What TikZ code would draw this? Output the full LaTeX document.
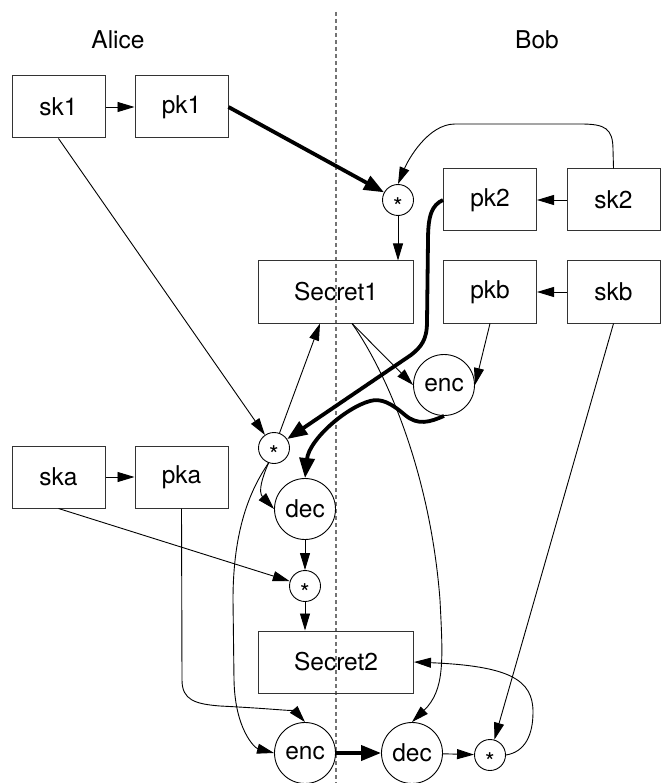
\documentclass[tikz,border=0pt]{standalone}
\usepackage{fontspec}
\setmainfont{TeX Gyre Heros}
\usetikzlibrary{arrows.meta,calc}
\newcommand{\opstar}{\raisebox{-15.5pt}[0pt][0pt]{*}}
\begin{document}
\begin{tikzpicture}[x=1pt,y=-1pt,
  font=\fontsize{24.5}{28}\selectfont,
  box/.style={draw=black!80, line width=1pt, minimum width=93pt, minimum height=62pt, inner sep=0pt},
  wbox/.style={box, minimum width=155pt},
  op/.style={draw, circle, line width=0.9pt, minimum size=31pt, inner sep=0pt},
  bigop/.style={draw, circle, line width=0.9pt, minimum size=61pt, inner sep=0pt},
  ar/.style={line width=0.9pt, -{Triangle[length=17pt,width=10pt]}},
  tar/.style={line width=3.8pt, -{Triangle[length=20pt,width=15pt]}}]
\useasboundingbox (0,0) rectangle (665,783);
\draw[black!55, line width=1.3pt, dash pattern=on 4pt off 3pt] (336,12) -- (336,783);

\node[inner sep=0pt] (alice) at (118,40) {Alice};
\node[inner sep=0pt] (bob) at (537,40) {Bob};

\node[box] (sk1) at (58.5,107) {sk1};
\node[box] (pk1) at (181.5,107) {pk1};
\node[op] (star1) at (398,200) {\opstar};
\node[box] (pk2) at (490,200) {pk2};
\node[box] (sk2) at (613.5,200) {sk2};
\node[wbox] (s1) at (336,292) {Secret1};
\node[box] (pkb) at (490,292) {pkb};
\node[box] (skb) at (613.5,292) {skb};
\node[bigop] (enc1) at (444,385) {enc};
\node[op] (star2) at (274,448) {\opstar};
\node[box] (ska) at (58.5,477) {ska};
\node[box] (pka) at (181.5,477) {pka};
\node[bigop] (dec1) at (305,509) {dec};
\node[op] (star3) at (305,586) {\opstar};
\node[wbox] (s2) at (336,662) {Secret2};
\node[bigop] (enc2) at (305,753) {enc};
\node[bigop] (dec2) at (412,753) {dec};
\node[op] (star4) at (490,755) {\opstar};

\coordinate (s1o) at ($(s1.south)+(16,0)$);
\coordinate (s1i) at ($(s1.south)+(-16,0)$);

\draw[ar] (sk1) -- (pk1);
\draw[tar] (pk1.east) -- (star1);
\draw[ar] (sk1.south) -- (star2);
\draw[ar] (sk2.north) -- (613,150) .. controls (613,128) and (605,124) .. (580,124) -- (455,124) .. controls (428,124) and (408,160) .. (star1.north);
\draw[ar] (sk2) -- (pk2);
\draw[ar] (star1) -- (star1 |- s1.north);
\draw[ar] (skb) -- (pkb);
\draw[tar] (pk2.west) .. controls (432,205) and (428,215) .. (428,240) -- (427,322) .. controls (427,340) and (421,347) .. (411,355) -- (star2);
\draw[ar] (s1o) -- (enc1.west);
\draw[ar] (pkb.south) -- (enc1.east);
\draw[tar] (enc1.south) .. controls (430,422) and (418,426) .. (405,415) .. controls (391,403) and (381,398) .. (370,401) .. controls (345,408) and (309,440) .. (dec1.north);
\draw[ar] (s1o) .. controls (385,370) and (430,470) .. (440,600) .. controls (443,660) and (445,690) .. (dec2.north);
\draw[ar] (star2) -- (s1i);
\draw[ar] (star2.250) .. controls (262,478) and (258,492) .. (dec1.west);
\draw[line width=0.9pt] (star2.250) .. controls (250,490) and (233,530) .. (233,600) -- (234,680);
\draw[ar] (234,680) .. controls (235,730) and (255,748) .. (enc2.west);
\draw[ar] (dec1) -- (star3);
\draw[ar] (ska) -- (pka);
\draw[ar] (ska.south) -- (star3);
\draw[ar] (star3) -- (star3 |- s2.north);
\draw[ar] (pka.south) -- (182,680) .. controls (182,700) and (195,704) .. (220,706) .. controls (280,709) and (296,712) .. (enc2.north);
\draw[tar] (enc2) -- (dec2);
\draw[ar] (dec2) -- (star4);
\draw[ar] (skb.south) -- (star4);
\draw[ar] (star4.east) .. controls (525,752) and (533,735) .. (533,712) .. controls (533,680) and (510,666) .. (s2.east);
\end{tikzpicture}
\end{document}
